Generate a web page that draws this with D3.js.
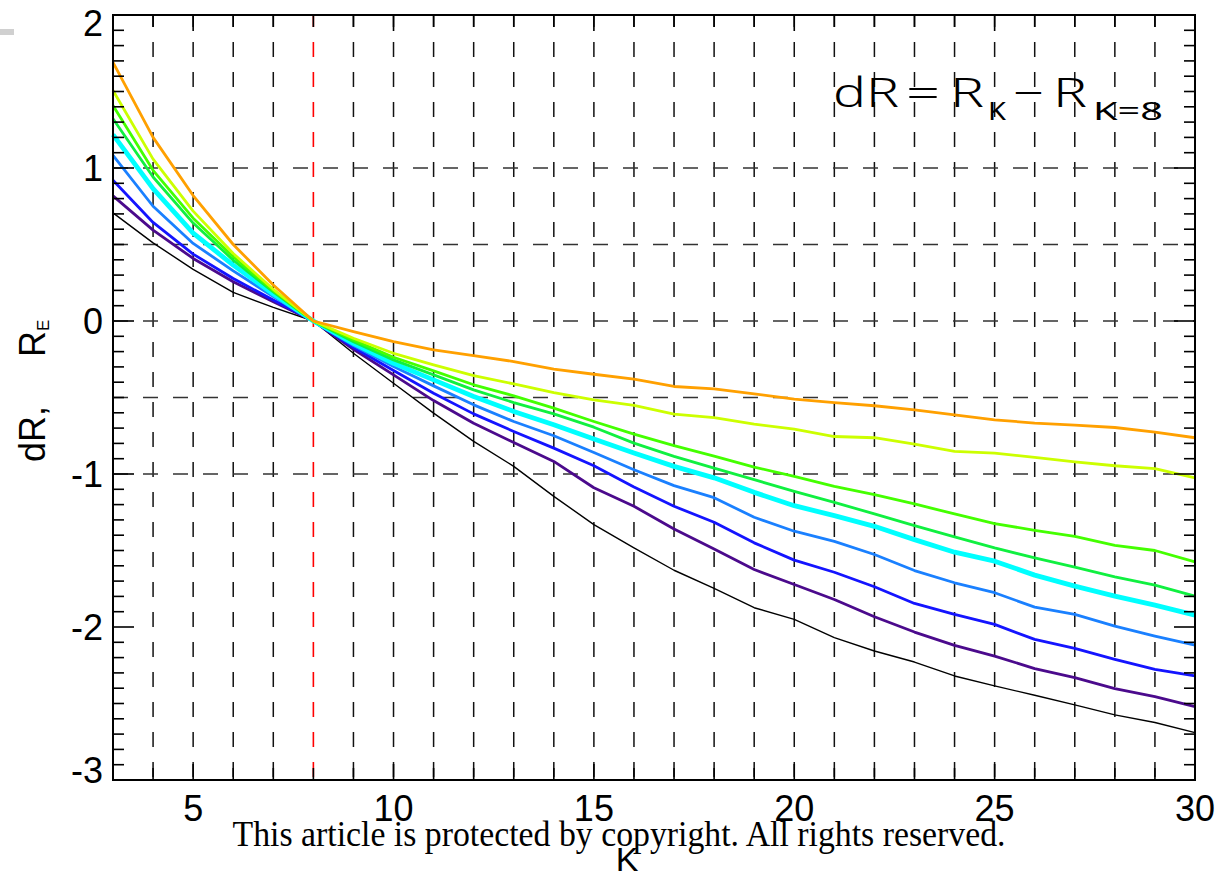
<!DOCTYPE html>
<html>
<head>
<meta charset="utf-8">
<script src="https://cdn.jsdelivr.net/npm/d3@7"></script>
<style>
  body { margin: 0; background: #fff; }
  svg { display: block; }
</style>
</head>
<body>
<svg id="chart" width="1218" height="872"></svg>
<script>
// K values on the horizontal axis
const kValues = [3,4,5,6,7,8,9,10,11,12,13,14,15,16,17,18,19,20,21,22,23,24,25,26,27,28,29,30];

// dR = R_K - R_{K=8} for each curve (Earth radii), one array per curve
const dRBlack  = [0.707,0.511,0.337,0.187,0.089,0,-0.211,-0.407,-0.602,-0.787,-0.950,-1.146,-1.331,-1.483,-1.629,-1.747,-1.874,-1.950,-2.070,-2.157,-2.229,-2.320,-2.385,-2.446,-2.509,-2.574,-2.624,-2.690];
const dRIndigo = [0.818,0.594,0.409,0.256,0.126,0,-0.185,-0.352,-0.520,-0.668,-0.794,-0.918,-1.090,-1.211,-1.359,-1.490,-1.624,-1.722,-1.820,-1.933,-2.033,-2.120,-2.190,-2.272,-2.331,-2.403,-2.455,-2.520];
const dRBlue   = [0.920,0.644,0.437,0.278,0.137,0,-0.172,-0.324,-0.472,-0.607,-0.722,-0.831,-0.946,-1.085,-1.211,-1.315,-1.450,-1.563,-1.642,-1.737,-1.846,-1.918,-1.983,-2.081,-2.140,-2.211,-2.277,-2.320];
const dRAzure  = [1.083,0.750,0.507,0.328,0.159,0,-0.161,-0.298,-0.424,-0.548,-0.657,-0.750,-0.859,-0.972,-1.076,-1.155,-1.283,-1.374,-1.440,-1.526,-1.631,-1.711,-1.776,-1.870,-1.918,-1.994,-2.059,-2.118];
const dRCyan   = [1.218,0.865,0.575,0.365,0.176,0,-0.146,-0.276,-0.385,-0.494,-0.591,-0.678,-0.772,-0.863,-0.950,-1.025,-1.120,-1.207,-1.272,-1.342,-1.429,-1.511,-1.570,-1.661,-1.733,-1.798,-1.857,-1.922];
const dRSpring = [1.322,0.941,0.640,0.398,0.190,0,-0.135,-0.254,-0.352,-0.450,-0.533,-0.607,-0.694,-0.798,-0.885,-0.962,-1.037,-1.113,-1.185,-1.261,-1.337,-1.411,-1.483,-1.548,-1.609,-1.672,-1.726,-1.798];
const dRGreen  = [1.409,0.985,0.672,0.420,0.198,0,-0.124,-0.237,-0.326,-0.417,-0.489,-0.570,-0.657,-0.739,-0.815,-0.883,-0.955,-1.015,-1.081,-1.135,-1.196,-1.261,-1.324,-1.368,-1.407,-1.466,-1.500,-1.574];
const dRLime   = [1.507,1.058,0.718,0.441,0.207,0,-0.113,-0.211,-0.287,-0.357,-0.411,-0.468,-0.515,-0.552,-0.609,-0.632,-0.674,-0.707,-0.755,-0.763,-0.805,-0.852,-0.863,-0.891,-0.921,-0.946,-0.965,-1.026];
const dROrange = [1.690,1.200,0.820,0.500,0.235,0,-0.070,-0.135,-0.189,-0.226,-0.265,-0.315,-0.348,-0.380,-0.428,-0.444,-0.476,-0.511,-0.533,-0.554,-0.581,-0.613,-0.646,-0.667,-0.681,-0.696,-0.726,-0.763];

// Tick labels
const xTickLabels = [5, 10, 15, 20, 25, 30];
const yTickLabels = [-3, -2, -1, 0, 1, 2];
const hGridValues = [1, 0.5, 0, -0.5, -1];
const refK = 8;

// Curve styling (drawn in this order)
const curves = [
  { values: dRBlack,  color: "#000000", width: 1.4 },
  { values: dRIndigo, color: "#4b0a8c", width: 2.8 },
  { values: dRBlue,   color: "#1414ff", width: 2.8 },
  { values: dRAzure,  color: "#1a80ff", width: 2.8 },
  { values: dRCyan,   color: "#00ffff", width: 4.8 },
  { values: dRSpring, color: "#10f040", width: 2.8 },
  { values: dRGreen,  color: "#44ff00", width: 2.8 },
  { values: dRLime,   color: "#ccff00", width: 2.8 },
  { values: dROrange, color: "#ffa000", width: 2.8 }
];

const svg = d3.select("#chart");
const L = 113, R = 1195, T = 15, B = 780;
const x = d3.scaleLinear().domain([3, 30]).range([L, R]);
const y = d3.scaleLinear().domain([-3, 2]).range([B, T]);

// small grey mark in the corner
svg.append("rect").attr("x", 0).attr("y", 29).attr("width", 14).attr("height", 6).attr("fill", "#d0d0d0");

// vertical dashed grid at every integer K
const gridG = svg.append("g");
gridG.selectAll("line.vg")
  .data(d3.range(4, 30).filter(k => k !== refK))
  .join("line")
  .attr("x1", d => x(d)).attr("x2", d => x(d))
  .attr("y1", T).attr("y2", B)
  .attr("stroke", "#111").attr("stroke-width", 1.5)
  .attr("stroke-dasharray", "15,15").attr("stroke-dashoffset", 3);

// horizontal dashed grid
gridG.selectAll("line.hg")
  .data(hGridValues)
  .join("line")
  .attr("x1", L).attr("x2", R)
  .attr("y1", d => y(d)).attr("y2", d => y(d))
  .attr("stroke", "#333").attr("stroke-width", 1.5)
  .attr("stroke-dasharray", "15,15");

// reference K line
svg.append("line")
  .attr("x1", x(refK)).attr("x2", x(refK))
  .attr("y1", T).attr("y2", B)
  .attr("stroke", "#ff0000").attr("stroke-width", 1.6)
  .attr("stroke-dasharray", "15,15").attr("stroke-dashoffset", 3);

// curves
const line = d3.line().x((d, i) => x(kValues[i])).y(d => y(d));
svg.append("g").selectAll("path")
  .data(curves)
  .join("path")
  .attr("d", c => line(c.values))
  .attr("fill", "none")
  .attr("stroke", c => c.color)
  .attr("stroke-width", c => c.width)
  .attr("stroke-linejoin", "round");

// frame
svg.append("rect")
  .attr("x", L).attr("y", T).attr("width", R - L).attr("height", B - T)
  .attr("fill", "none").attr("stroke", "#000").attr("stroke-width", 2);

// ticks on all four sides, pointing inward
const tickG = svg.append("g").attr("stroke", "#000").attr("stroke-width", 1.6);
const xTicks = d3.range(3, 31);
xTicks.forEach(k => {
  const len = k % 5 === 0 ? 16 : 12;
  tickG.append("line").attr("x1", x(k)).attr("x2", x(k)).attr("y1", B).attr("y2", B - len);
  tickG.append("line").attr("x1", x(k)).attr("x2", x(k)).attr("y1", T).attr("y2", T + len);
});
const yTicks = d3.range(-30, 21).map(v => v / 10);
yTicks.forEach(v => {
  const major = Math.abs(v - Math.round(v)) < 1e-9;
  const len = major ? 21 : 11;
  tickG.append("line").attr("x1", L).attr("x2", L + len).attr("y1", y(v)).attr("y2", y(v));
  tickG.append("line").attr("x1", R).attr("x2", R - len).attr("y1", y(v)).attr("y2", y(v));
});

// tick labels
const font = "'Liberation Sans', Arial, Helvetica, sans-serif";
svg.append("g").selectAll("text")
  .data(xTickLabels)
  .join("text")
  .attr("x", d => x(d)).attr("y", 821)
  .attr("text-anchor", "middle")
  .attr("font-family", font).attr("font-size", 36)
  .text(d => d);

svg.append("g").selectAll("text")
  .data(yTickLabels)
  .join("text")
  .attr("x", 103)
  .attr("y", d => Math.min(Math.max(y(d), T + 8), B - 10))
  .attr("dy", "0.36em")
  .attr("text-anchor", "end")
  .attr("font-family", font).attr("font-size", 36)
  .text(d => d);

// copyright line
svg.append("text")
  .attr("x", 619).attr("y", 846)
  .attr("text-anchor", "middle")
  .attr("font-family", "'Liberation Serif', 'DejaVu Serif', serif")
  .attr("font-size", 35)
  .attr("textLength", 773).attr("lengthAdjust", "spacingAndGlyphs")
  .text("This article is protected by copyright. All rights reserved.");

// axis titles
svg.append("text")
  .attr("x", 627).attr("y", 871)
  .attr("text-anchor", "middle")
  .attr("font-family", font).attr("font-size", 34)
  .text("K");

const yTitle = svg.append("text")
  .attr("transform", "translate(45,462) rotate(-90)")
  .attr("font-family", font).attr("font-size", 36);
yTitle.append("tspan").text("dR,");
yTitle.append("tspan").attr("dx", 49).text("R");
yTitle.append("tspan").attr("font-size", 17).attr("dy", 4).text("E");

// formula annotation, set piece by piece; main glyphs light, subscripts regular
const annFont = "'Noto Sans', 'Liberation Sans', sans-serif";
const annPieces = [
  { t: "dR",   x: 833,  w: 66, size: 40, base: 107, weight: 300 },
  { t: "=",    x: 906,  w: 34, size: 40, base: 107, weight: 300 },
  { t: "R",    x: 950,  w: 34, size: 40, base: 107, weight: 300 },
  { t: "K",    x: 988,  w: 18, size: 25, base: 120, weight: 400 },
  { t: "\u2212", x: 1013, w: 31, size: 40, base: 107, weight: 300 },
  { t: "R",    x: 1053, w: 34, size: 40, base: 107, weight: 300 },
  { t: "K=8",  x: 1093, w: 70, size: 25, base: 120, weight: 400 }
];
svg.append("g").selectAll("text")
  .data(annPieces)
  .join("text")
  .attr("x", d => d.x).attr("y", d => d.base)
  .attr("font-family", annFont).attr("font-weight", d => d.weight)
  .attr("font-size", d => d.size)
  .attr("textLength", d => d.w).attr("lengthAdjust", "spacingAndGlyphs")
  .text(d => d.t);
</script>
</body>
</html>
